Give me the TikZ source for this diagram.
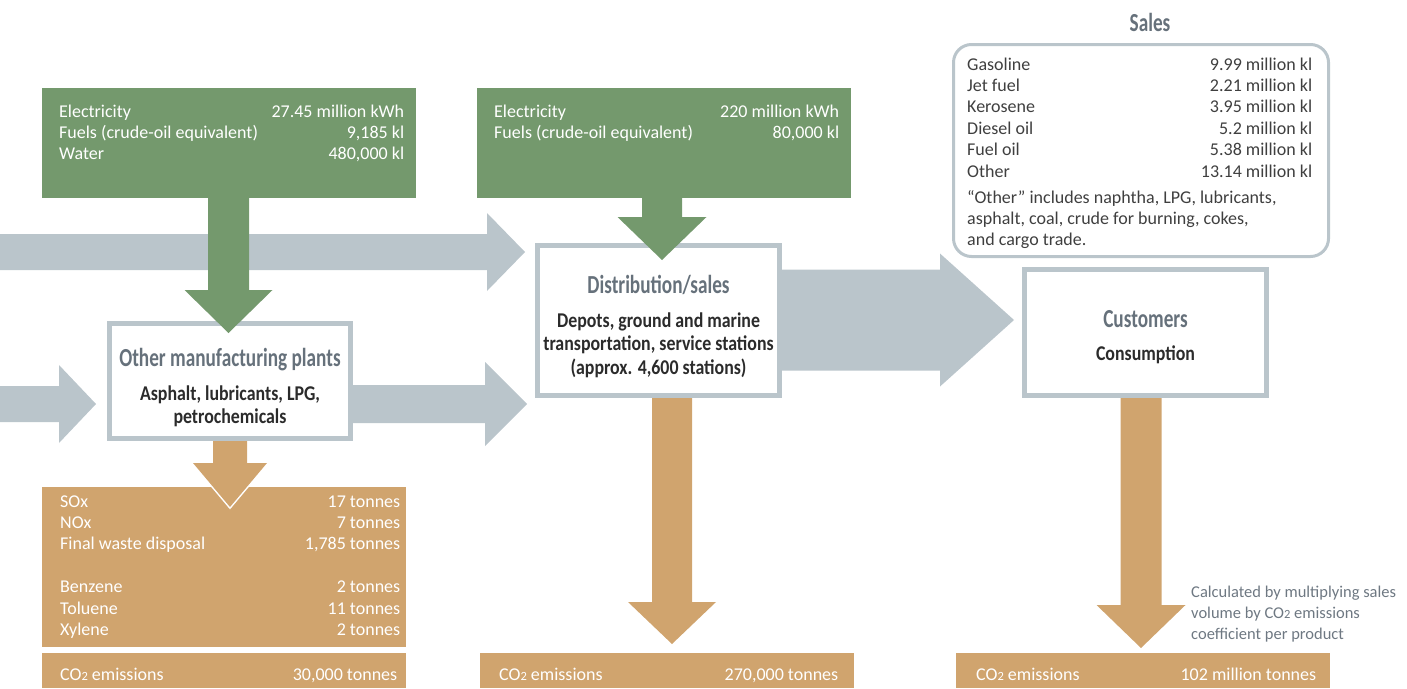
\documentclass[tikz,border=0pt]{standalone}
\usepackage{fontspec}
\setmainfont{Carlito}
\newfontfamily\condfont[FakeStretch=0.74]{Carlito}
\newfontfamily\subfont[FakeStretch=0.85]{Carlito}
\usetikzlibrary{calc,positioning}
\definecolor{leaf}{HTML}{74996D}
\definecolor{steel}{HTML}{BAC5CB}
\definecolor{sand}{HTML}{D0A46E}
\definecolor{slate}{HTML}{66717B}
\definecolor{ink}{HTML}{2B2B2B}
\definecolor{grey}{HTML}{3F3F3F}
\definecolor{note}{HTML}{6E7882}
\newcommand\tbl[2]{\begin{tabular*}{#1}[t]{@{\extracolsep{\fill}}lr@{}}#2\end{tabular*}}
\newcommand\stack[1]{\begin{tabular}[t]{@{}c@{}}#1\end{tabular}}
\newcommand\cotwo{CO{\fontsize{12.5}{12.5}\selectfont2}}
% fat arrows: style, from, tip, shaft half width, head half width, head length
\newcommand\vflow[6]{\fill[#1] let \p1=(#2),\p2=(#3) in
  (\x2-#4pt,\y1)--(\x2-#4pt,\y2+#6pt)--(\x2-#5pt,\y2+#6pt)--(\x2,\y2)
  --(\x2+#5pt,\y2+#6pt)--(\x2+#4pt,\y2+#6pt)--(\x2+#4pt,\y1)--cycle;}
\newcommand\hflow[6]{\fill[#1] let \p1=(#2),\p2=(#3) in
  (\x1,\y2+#4pt)--(\x2-#6pt,\y2+#4pt)--(\x2-#6pt,\y2+#5pt)--(\x2,\y2)
  --(\x2-#6pt,\y2-#5pt)--(\x2-#6pt,\y2-#4pt)--(\x1,\y2-#4pt)--cycle;}
\tikzset{x=1pt,y=-1pt,
  every node/.style={inner sep=0pt},
  panel/.style={fill=#1,minimum height=35pt},
  frame/.style={draw=steel,line width=5pt,fill=white},
  rows/.style={anchor=base west,font=\fontsize{18}{21.4}\selectfont},
  head/.style={anchor=base,text=slate,font=\condfont\bfseries\fontsize{26}{28}\selectfont},
  sub/.style={anchor=base,text=ink,font=\subfont\bfseries\fontsize{21}{23.5}\selectfont}}

\begin{document}
\begin{tikzpicture}
\useasboundingbox (0,0) rectangle (1407,688);
\coordinate (w1) at (0,252); \coordinate (w2) at (0,404);
\coordinate (t1) at (228.5,333); \coordinate (t2) at (662,260);
\coordinate (t4) at (230,507); \coordinate (t5) at (672,644); \coordinate (t6) at (1141,648);
\coordinate (t7) at (525,252); \coordinate (t8) at (96,404);
\coordinate (t9) at (527,404); \coordinate (t10) at (1014,320);

\node[panel=leaf,minimum width=374pt,minimum height=110pt] (g1) at (229,143) {};
\node[panel=leaf,minimum width=374pt,minimum height=110pt] (g2) at (664,143) {};
\node[frame,minimum width=241pt,minimum height=115pt] (omp) at (230,381) {};
\node[frame,minimum width=242pt,minimum height=150pt] (dist) at (658.5,320.5) {};
\node[frame,minimum width=242pt,minimum height=126pt] (cust) at (1145.5,332.5) {};
\node[draw=steel,line width=3pt,rounded corners=18pt,minimum width=375pt,minimum height=212pt] (sales) at (1141,150.5) {};
\node[panel=sand,minimum width=364pt,minimum height=160pt] (o1) at (224,567) {};
\node[panel=sand,minimum width=364pt] (c1) at (224,670.5) {};
\node[panel=sand,minimum width=374pt] (c2) at (667,670.5) {};
\node[panel=sand,minimum width=374pt] (c3) at (1143,670.5) {};

\hflow{steel}{w1}{t7}{18}{39}{38}
\hflow{steel}{w2}{t8}{18}{39}{37}
\hflow{steel}{omp.east}{t9}{19}{42}{42}
\hflow{steel}{dist.east}{t10}{50.5}{66.5}{74}
\vflow{leaf}{g1.south}{t1}{20.5}{44}{43}
\vflow{leaf}{g2.south}{t2}{20}{44.5}{43}
\draw[white,line width=3pt] let \p2=(t4) in (\x2-37pt,\y2+44pt)--(\x2,\y2)--(\x2+37pt,\y2+44pt);
\vflow{sand}{omp.south}{t4}{17}{37}{44}
\vflow{sand}{dist.south}{t5}{20}{44}{42}
\vflow{sand}{cust.south}{t6}{20.5}{44.5}{43}

\node[rows,text=white] (g1t) at (59,117) {\tbl{345pt}{Electricity & 27.45 million kWh\\
  Fuels (crude-oil equivalent) & 9,185 kl\\ Water & 480,000 kl}};
\node[rows,text=white] (g2t) at (494,117) {\tbl{345pt}{Electricity & 220 million kWh\\
  Fuels (crude-oil equivalent) & 80,000 kl}};
\node[head] (salesh) at (1150,31) {Sales};
\node[rows,text=grey] (salest) at (967,70) {\tbl{345pt}{Gasoline & 9.99 million kl\\
  Jet fuel & 2.21 million kl\\ Kerosene & 3.95 million kl\\ Diesel oil & 5.2 million kl\\
  Fuel oil & 5.38 million kl\\ Other & 13.14 million kl\\[4.6pt]
  \multicolumn{2}{@{}l@{}}{“Other” includes naphtha, LPG, lubricants,}\\
  \multicolumn{2}{@{}l@{}}{asphalt, coal, crude for burning, cokes,}\\
  \multicolumn{2}{@{}l@{}}{and cargo trade.}}};
\node[head] (omph) at (230,366) {Other manufacturing plants};
\node[sub] (ompt) at (230,400) {\stack{Asphalt, lubricants, LPG,\\ petrochemicals}};
\node[head] (disth) at (658.5,293) {Distribution/sales};
\node[sub] (distt) at (658.5,327) {\stack{Depots, ground and marine\\
  transportation, service stations\\ (approx. 4,600 stations)}};
\node[head] (custh) at (1145.5,327) {Customers};
\node[sub] (custt) at (1145.5,360) {Consumption};
\node[rows,text=white] (o1t) at (60,507) {\tbl{340pt}{SOx & 17 tonnes\\ NOx & 7 tonnes\\
  Final waste disposal & 1,785 tonnes\\ & \\ Benzene & 2 tonnes\\ Toluene & 11 tonnes\\
  Xylene & 2 tonnes}};
\node[rows,text=white] (c1t) at (60,680) {\tbl{337pt}{\cotwo{} emissions & 30,000 tonnes}};
\node[rows,text=white] (c2t) at (499,680) {\tbl{339pt}{\cotwo{} emissions & 270,000 tonnes}};
\node[rows,text=white] (c3t) at (976,680) {\tbl{340pt}{\cotwo{} emissions & 102 million tonnes}};
\node[rows,text=note,font=\fontsize{16.5}{21}\selectfont] (calc) at (1191,597)
  {\begin{tabular}[t]{@{}l@{}}Calculated by multiplying sales\\
  volume by {\cotwo} emissions\\ coefficient per product\end{tabular}};
\end{tikzpicture}
\end{document}
